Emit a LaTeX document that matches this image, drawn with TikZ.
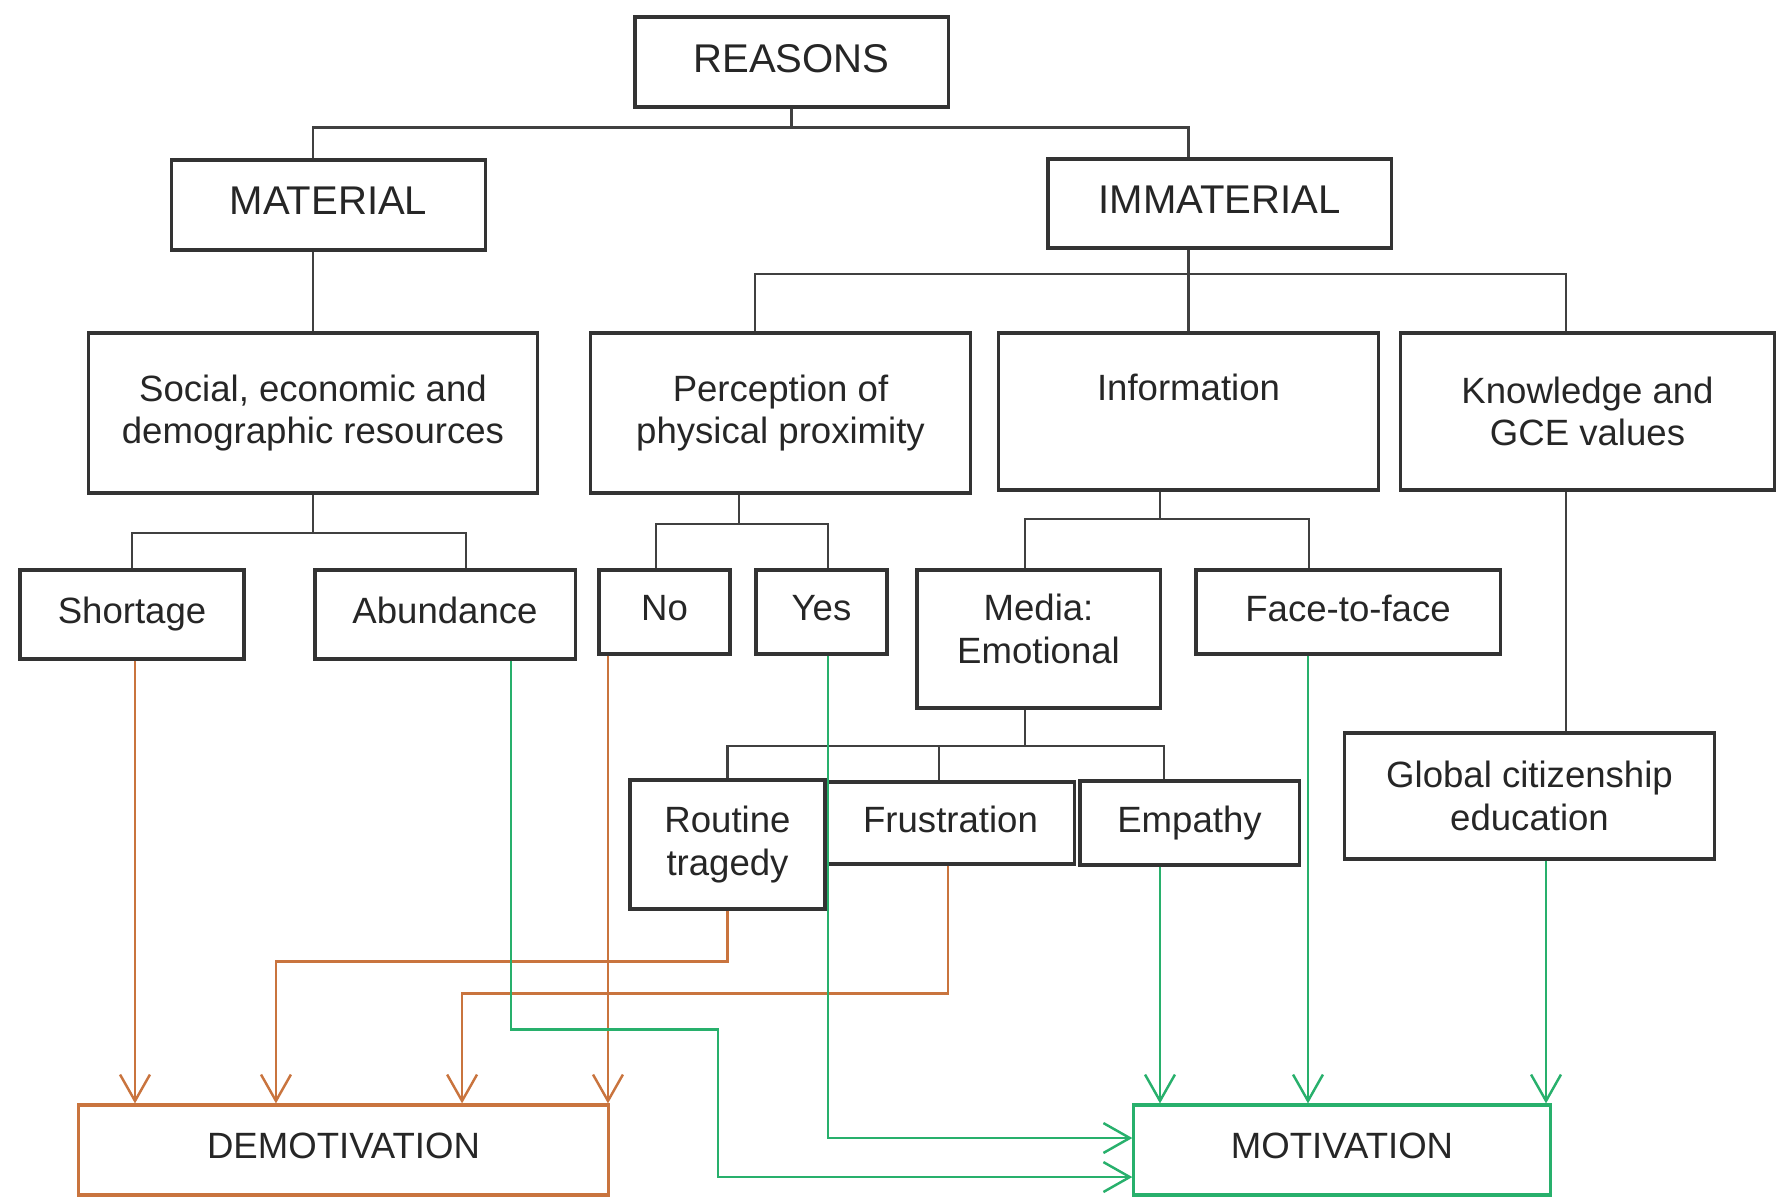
\documentclass[tikz,border=0pt]{standalone}
\usepackage{fontspec}
\setmainfont{Liberation Sans}
\usetikzlibrary{arrows.meta}

\definecolor{demcol}{RGB}{201,116,62}
\definecolor{motcol}{RGB}{40,176,108}

\begin{document}
\begin{tikzpicture}[x=0.01cm,y=-0.01cm]
    \tikzset{box/.style   = {draw=black!80, line width=0.9pt, inner sep=2pt,
        align=center, text=black!85,
        font=\fontsize{10.4}{12}\selectfont},
      one/.style   = {box, text depth=2.2pt},
      head/.style  = {one, font=\fontsize{11.4}{13}\selectfont},
      link/.style  = {draw=black!75, line width=0.65pt},
      demo/.style  = {draw=demcol, line width=0.7pt,
        -{Straight Barb[length=7.5pt,width=8.5pt]}},
      moti/.style  = {demo, draw=motcol}}

    \useasboundingbox (0,0) rectangle (1776,1199);

    % Draw the reason boxes.
    \node[head, minimum width=3.13cm, minimum height=0.9cm]  (reasons)    at (791.5,62)   {REASONS};
    \node[head, minimum width=3.13cm, minimum height=0.9cm]  (material)   at (328.5,205)  {MATERIAL};
    \node[head, minimum width=3.43cm, minimum height=0.89cm] (immaterial) at (1219.5,203.5) {IMMATERIAL};

    \node[box, minimum width=4.48cm, minimum height=1.6cm]  (social)     at (313,413)    {Social, economic and\\demographic resources};
    \node[box, minimum width=3.79cm, minimum height=1.6cm]  (perception) at (780.5,413)  {Perception of\\physical proximity};
    \node[box, minimum width=3.79cm, minimum height=1.57cm,
          text height=0.3cm, text depth=0.52cm]             (info)       at (1188.5,411.5) {Information};
    \node[box, minimum width=3.73cm, minimum height=1.57cm] (knowledge)  at (1587.5,411.5) {Knowledge and\\GCE values};

    \node[one, minimum width=2.24cm, minimum height=0.89cm] (shortage)   at (132,614.5)  {Shortage};
    \node[one, minimum width=2.6cm,  minimum height=0.89cm] (abundance)  at (445,614.5)  {Abundance};
    \node[one, minimum width=1.31cm, minimum height=0.84cm] (no)         at (664.5,612)  {No};
    \node[one, minimum width=1.31cm, minimum height=0.84cm] (yes)        at (821.5,612)  {Yes};
    \node[box, minimum width=2.43cm, minimum height=1.38cm,
          text height=0.8cm, text depth=0.32cm]             (media)      at (1038.5,639) {Media:\\Emotional};
    \node[one, minimum width=3.04cm, minimum height=0.84cm] (facetoface) at (1348,612)   {Face-to-face};

    \node[box, minimum width=1.95cm, minimum height=1.29cm] (routine)     at (727.5,844.5) {Routine\\tragedy};
    \node[one, minimum width=2.47cm, minimum height=0.82cm] (frustration) at (950.5,823)   {Frustration};
    \node[one, minimum width=2.19cm, minimum height=0.84cm] (empathy)     at (1189.5,823)  {Empathy};
    \node[box, minimum width=3.69cm, minimum height=1.26cm] (global)      at (1529.5,796)  {Global citizenship\\education};

    % Draw the outcomes.
    \node[one, draw=demcol, minimum width=5.29cm, minimum height=0.9cm] (demotivation) at (343.5,1150) {DEMOTIVATION};
    \node[one, draw=motcol, minimum width=4.16cm, minimum height=0.9cm] (motivation)   at (1342,1150)  {MOTIVATION};

    % Tree lines.
    \draw[link] (reasons.south) -- ++(0,19) coordinate (r1);
    \draw[link] (r1) -| (material.north -| social.north);
    \draw[link] (r1) -| (immaterial.north -| info.north);
    \draw[link] (social.north) -- (social.north |- material.south);

    \draw[link] (info.north) -- (info.north |- immaterial.south);
    \draw[link] ([xshift=-0.255cm]perception.north) |- ([yshift=0.57cm]info.north)
                -| ([xshift=-0.215cm]knowledge.north);

    \draw[link] (social.south) -- ++(0,38) coordinate (s1);
    \draw[link] (shortage.north) |- (s1) -| ([xshift=0.21cm]abundance.north);

    \draw[link] ([xshift=-0.415cm]perception.south) -- ++(0,29) coordinate (p1);
    \draw[link] ([xshift=-0.085cm]no.north) |- (p1) -| ([xshift=0.065cm]yes.north);

    \draw[link] ([xshift=-0.285cm]info.south) -- ++(0,27) coordinate (n1);
    \draw[link] ([xshift=-0.135cm]media.north) |- (n1) -| ([xshift=-0.39cm]facetoface.north);

    \draw[link] ([xshift=-0.135cm]media.south) -- ++(0,36) coordinate (m1);
    \draw[link] (routine.north) |- (m1) -| ([xshift=-0.255cm]empathy.north);
    \draw[link] ([xshift=-0.115cm]frustration.north) |- (m1);

    \draw[link] ([xshift=0.365cm]global.north) -- ([xshift=0.365cm]global.north |- knowledge.south);

    % Arrows to demotivation.
    \draw[demo] ([xshift=0.03cm]shortage.south) -- ([xshift=0.03cm]shortage.south |- demotivation.north);
    \draw[demo] ([xshift=-0.565cm]no.south) -- ([xshift=-0.565cm]no.south |- demotivation.north);
    \draw[demo] (routine.south) -- ++(0,51) -| ([xshift=-0.675cm]demotivation.north);
    \draw[demo] ([xshift=-0.025cm]frustration.south) -- ++(0,128) -| ([xshift=1.185cm]demotivation.north);

    % Arrows to motivation.
    \draw[moti] ([xshift=0.66cm]abundance.south) -- ++(0,369) -- ++(207,0)
                |- ([yshift=-0.27cm]motivation.west);
    \draw[moti] ([xshift=0.065cm]yes.south) |- ([yshift=0.12cm]motivation.west);
    \draw[moti] ([xshift=-0.295cm]empathy.south) -- ([xshift=-0.295cm]empathy.south |- motivation.north);
    \draw[moti] ([xshift=-0.40cm]facetoface.south) -- ([xshift=-0.40cm]facetoface.south |- motivation.north);
    \draw[moti] ([xshift=0.165cm]global.south) -- ([xshift=0.165cm]global.south |- motivation.north);
\end{tikzpicture}
\end{document}
